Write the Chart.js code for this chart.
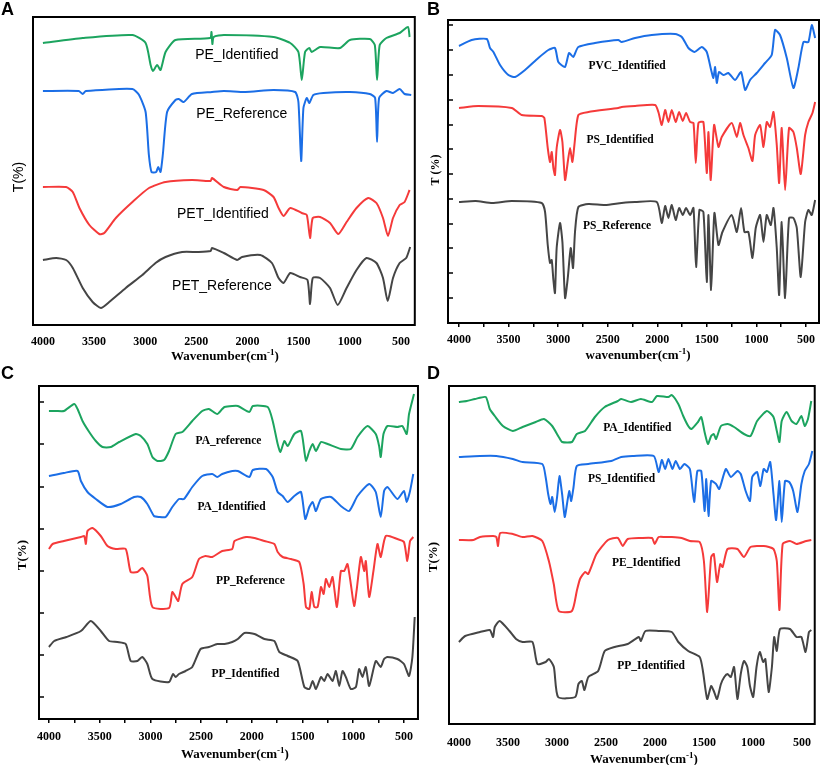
<!DOCTYPE html>
<html>
<head>
<meta charset="utf-8">
<script src="https://cdn.jsdelivr.net/npm/chart.js@4.4.1/dist/chart.umd.min.js"></script>
<style>
body { margin: 0; background: #fff; width: 823px; height: 765px; position: relative; overflow: hidden; }
canvas { position: absolute; }
.letter { position: absolute; font: bold 18px "Liberation Sans", Arial, sans-serif; line-height: 18px; }
.xt { position: absolute; font: bold 13px "Liberation Serif", "Times New Roman", serif; transform: translateX(-50%); white-space: nowrap; line-height: 14px; }
.xt sup { font-size: 9px; }
.yt { position: absolute; transform: translate(-50%, -50%) rotate(-90deg); white-space: nowrap; }
</style>
</head>
<body>
<canvas id="cA" width="420" height="365" style="left:0;top:0"></canvas>
<canvas id="cB" width="403" height="365" style="left:420px;top:0"></canvas>
<canvas id="cC" width="420" height="400" style="left:0;top:365px"></canvas>
<canvas id="cD" width="403" height="400" style="left:420px;top:365px"></canvas>

<div class="letter" style="left:1px;top:0">A</div>
<div class="letter" style="left:427px;top:0">B</div>
<div class="letter" style="left:1px;top:364px">C</div>
<div class="letter" style="left:427px;top:364px">D</div>

<div class="xt" style="left:225px;top:345px">Wavenumber(cm<sup>-1</sup>)</div>
<div class="xt" style="left:638px;top:344px">wavenumber(cm<sup>-1</sup>)</div>
<div class="xt" style="left:235px;top:743px">Wavenumber(cm<sup>-1</sup>)</div>
<div class="xt" style="left:644px;top:748px">Wavenumber(cm<sup>-1</sup>)</div>

<div class="yt" style="left:18px;top:177px;font:14px 'Liberation Sans',Arial,sans-serif">T(%)</div>
<div class="yt" style="left:435px;top:170px;font:bold 12px 'Liberation Serif',serif">T (%)</div>
<div class="yt" style="left:22px;top:555px;font:bold 13px 'Liberation Serif',serif">T(%)</div>
<div class="yt" style="left:433px;top:557px;font:bold 13px 'Liberation Serif',serif">T(%)</div>

<script>
// wavenumber (cm-1) tick labels shared by all panels, minor marks every 250
const xTickLabels = [4000, 3500, 3000, 2500, 2000, 1500, 1000, 500]
const xMinorTicks = [4000, 3750, 3500, 3250, 3000, 2750, 2500, 2250, 2000, 1750, 1500, 1250, 1000, 750, 500]

// ---- panel A : [wavenumber, T offset (a.u.)]
const aPEident = [[4000,282],[3611,287],[3125,290],[2996,282],[2947,260],[2925,254],[2883,260],[2850,255],[2801,273],[2704,285],[2365,287],[2352,293],[2343,281],[2330,288],[2231,290],[1745,288],[1582,282],[1502,273],[1469,245],[1437,273],[1395,277],[1373,273],[1290,278],[1096,277],[999,285],[804,286],[755,280],[733,245],[707,280],[642,287],[512,292],[431,298],[415,288]]
const aPEref = [[4000,234],[3650,234],[3611,231],[3580,234],[3125,236],[3060,230],[2996,213],[2964,170],[2938,153],[2893,153],[2873,158],[2850,153],[2828,170],[2786,213],[2704,225],[2672,226],[2624,223],[2543,231],[2347,233],[2231,234],[2020,233],[1745,235],[1534,233],[1502,223],[1475,164],[1453,217],[1420,227],[1395,222],[1356,230],[1258,232],[999,233],[804,231],[752,227],[733,183],[713,227],[642,234],[577,232],[512,236],[464,231],[399,230]]
const aPETident = [[4000,138],[3773,138],[3708,133],[3643,117],[3546,100],[3449,91],[3400,92],[3287,107],[3125,123],[2963,137],[2801,143],[2542,145],[2360,144],[2347,147],[2231,138],[2101,135],[2069,138],[1842,135],[1745,128],[1696,117],[1647,109],[1582,117],[1469,112],[1420,110],[1388,87],[1362,107],[1290,108],[1193,102],[1112,91],[1031,103],[934,117],[820,127],[739,122],[675,107],[626,89],[577,107],[512,120],[464,123],[415,135]]
const aPETref = [[4000,65],[3870,67],[3773,65],[3708,57],[3611,37],[3514,23],[3433,17],[3352,23],[3190,37],[3028,50],[2899,62],[2801,68],[2639,73],[2477,73],[2360,74],[2347,77],[2231,72],[2101,65],[2053,68],[1875,70],[1761,62],[1696,47],[1647,42],[1582,52],[1486,48],[1413,45],[1388,21],[1362,47],[1290,47],[1193,37],[1118,20],[1031,37],[934,55],[837,67],[739,62],[675,47],[629,24],[577,47],[512,62],[448,67],[409,78]]

// ---- panel B
const bPVC = [[4000,277],[3872,283],[3720,284],[3687,275],[3653,271],[3586,258],[3502,248],[3435,246],[3334,253],[3200,265],[3099,273],[3032,275],[2998,261],[2931,256],[2890,270],[2847,266],[2797,276],[2629,280],[2393,283],[2360,281],[2224,285],[2056,288],[1820,289],[1753,286],[1686,275],[1625,271],[1551,276],[1501,271],[1457,253],[1434,245],[1417,256],[1400,240],[1377,251],[1333,248],[1283,250],[1215,243],[1155,251],[1114,233],[1064,243],[997,250],[913,260],[846,268],[812,293],[762,288],[694,265],[627,235],[577,255],[526,281],[476,281],[442,298],[408,285]]
const bPSident = [[4000,215],[3806,217],[3468,215],[3368,208],[3166,207],[3139,205],[3105,175],[3082,161],[3065,171],[3048,155],[3032,148],[3015,175],[2981,193],[2957,181],[2930,143],[2903,161],[2880,175],[2856,161],[2836,178],[2796,208],[2695,211],[2393,215],[2360,216],[2224,217],[2022,218],[1989,211],[1955,198],[1921,213],[1888,201],[1854,213],[1814,201],[1780,211],[1743,202],[1710,210],[1669,201],[1635,200],[1612,160],[1585,200],[1535,201],[1501,150],[1484,191],[1461,143],[1427,198],[1383,176],[1350,186],[1249,200],[1198,186],[1165,200],[1131,188],[1081,175],[1040,162],[1013,188],[963,198],[929,176],[896,201],[862,196],[828,211],[795,178],[771,140],[745,195],[711,133],[671,195],[627,191],[593,175],[553,149],[509,188],[476,201],[435,210],[408,221]]
const bPSref = [[4000,121],[3832,122],[3664,120],[3468,122],[3166,120],[3132,111],[3105,78],[3082,60],[3065,63],[3048,43],[3032,30],[3015,75],[2981,100],[2957,81],[2930,25],[2903,45],[2873,75],[2850,55],[2830,91],[2796,116],[2695,119],[2527,118],[2360,120],[2224,121],[2005,121],[1955,100],[1921,117],[1888,105],[1854,118],[1814,103],[1780,115],[1743,108],[1710,115],[1669,108],[1635,115],[1609,56],[1575,113],[1535,111],[1501,41],[1484,108],[1457,33],[1424,110],[1383,78],[1343,91],[1249,108],[1198,91],[1155,115],[1121,91],[1081,91],[1040,65],[1007,95],[963,108],[929,81],[896,108],[855,98],[828,115],[795,75],[771,28],[745,101],[711,25],[671,105],[627,105],[593,95],[553,46],[509,101],[476,113],[442,108],[408,123]]
const bYTicks = [25,50,75,99,124,149,174,198,223,248,273,298]

// ---- panel C
const cPAref = [[4000,308],[3931,308],[3853,308],[3751,315],[3718,310],[3669,298],[3603,287],[3538,278],[3472,272],[3390,272],[3308,277],[3144,285],[3095,283],[3030,275],[2980,262],[2931,258],[2865,259],[2816,268],[2751,285],[2685,287],[2587,298],[2489,308],[2423,310],[2341,305],[2292,310],[2269,312],[2193,313],[2138,313],[2024,307],[1990,313],[1843,312],[1794,298],[1745,275],[1718,267],[1679,278],[1646,273],[1581,285],[1515,288],[1482,268],[1466,258],[1433,268],[1400,275],[1368,268],[1318,277],[1253,275],[1122,270],[1024,270],[958,282],[860,293],[778,285],[745,273],[729,262],[702,285],[663,293],[565,292],[516,293],[473,285],[450,305],[401,325]]
const cPAident = [[4000,243],[3853,246],[3718,248],[3685,238],[3620,227],[3538,220],[3423,212],[3292,215],[3161,222],[3095,222],[3030,215],[2964,203],[2915,202],[2849,202],[2784,212],[2718,220],[2669,220],[2587,232],[2489,243],[2390,245],[2341,242],[2292,245],[2193,248],[2138,248],[2024,242],[1990,249],[1859,250],[1794,242],[1745,227],[1696,223],[1646,217],[1581,223],[1515,227],[1473,200],[1433,212],[1400,217],[1368,208],[1318,220],[1220,222],[1122,213],[1040,208],[958,223],[843,235],[778,227],[729,202],[696,228],[663,232],[565,220],[500,228],[473,217],[440,228],[408,245]]
const cPPref = [[4000,170],[3964,175],[3853,178],[3685,182],[3652,183],[3636,175],[3620,188],[3570,191],[3489,183],[3423,173],[3341,170],[3243,170],[3194,147],[3128,147],[3079,151],[3030,143],[2980,112],[2816,111],[2784,127],[2751,122],[2725,118],[2685,135],[2587,142],[2521,160],[2456,163],[2390,162],[2292,168],[2193,170],[2171,178],[2056,182],[1974,181],[1876,178],[1778,175],[1745,167],[1696,162],[1614,160],[1532,157],[1489,135],[1466,112],[1433,110],[1410,127],[1384,112],[1351,112],[1318,132],[1292,125],[1269,140],[1236,132],[1204,142],[1161,112],[1122,148],[1089,148],[1057,155],[1024,135],[991,113],[965,130],[925,162],[892,148],[876,158],[843,122],[801,148],[761,175],[729,162],[679,183],[565,180],[500,177],[467,158],[440,178],[408,182]]
const cPPident = [[4000,72],[3948,78],[3827,82],[3685,88],[3587,98],[3489,88],[3407,78],[3325,77],[3243,75],[3194,58],[3128,58],[3079,62],[3030,55],[2980,40],[2816,37],[2777,45],[2751,42],[2718,45],[2653,48],[2587,52],[2505,70],[2423,72],[2341,75],[2269,75],[2193,77],[2138,80],[2073,86],[1974,85],[1876,80],[1778,78],[1729,67],[1646,63],[1548,58],[1482,32],[1433,30],[1400,38],[1368,30],[1318,42],[1286,38],[1253,45],[1204,38],[1171,48],[1138,33],[1106,48],[1073,42],[1024,30],[974,32],[942,50],[909,42],[876,52],[843,33],[778,58],[729,52],[696,60],[663,62],[565,60],[500,55],[450,43],[417,62],[394,102]]
const cYTicks = [22,64,106,148,190,232,275,317]

// ---- panel D
const dPA = [[4000,322],[3920,323],[3836,325],[3726,327],[3685,315],[3634,308],[3551,298],[3450,293],[3350,297],[3216,302],[3132,305],[3048,298],[2981,287],[2947,282],[2847,282],[2797,290],[2713,293],[2612,307],[2512,317],[2378,323],[2344,325],[2244,322],[2143,325],[2029,322],[1979,328],[1862,327],[1828,329],[1761,320],[1711,308],[1660,298],[1627,295],[1560,302],[1527,307],[1493,292],[1459,280],[1426,288],[1399,290],[1376,285],[1326,298],[1259,300],[1192,297],[1091,290],[1024,288],[957,303],[857,313],[790,307],[756,293],[729,282],[706,303],[656,312],[605,303],[555,300],[505,308],[471,298],[438,305],[404,323]]
const dPS = [[4000,267],[3785,268],[3618,268],[3450,265],[3350,262],[3149,260],[3115,247],[3089,230],[3065,220],[3048,227],[3022,212],[2998,227],[2974,248],[2947,230],[2920,207],[2897,220],[2874,233],[2854,223],[2830,237],[2797,258],[2680,260],[2445,263],[2344,267],[2230,268],[2012,268],[1962,252],[1929,264],[1895,255],[1862,265],[1821,255],[1788,263],[1744,255],[1700,260],[1643,255],[1600,222],[1567,253],[1527,253],[1493,213],[1476,245],[1453,208],[1426,243],[1376,240],[1343,235],[1276,255],[1225,247],[1158,253],[1124,250],[1074,233],[1030,223],[1007,247],[957,252],[924,238],[890,255],[857,252],[823,262],[790,230],[763,204],[729,243],[706,202],[672,243],[629,242],[589,233],[545,212],[505,240],[471,253],[428,260],[394,273]]
const dPE = [[4000,184],[3852,184],[3785,187],[3651,188],[3618,187],[3601,178],[3578,191],[3450,190],[3350,187],[3249,188],[3149,183],[3082,163],[3032,140],[2981,113],[2847,113],[2797,133],[2764,145],[2713,152],[2680,150],[2596,170],[2479,184],[2378,186],[2328,178],[2277,185],[2143,186],[2029,186],[2003,180],[1962,187],[1895,187],[1828,187],[1727,186],[1643,183],[1543,182],[1500,163],[1466,112],[1426,167],[1399,170],[1366,142],[1333,160],[1309,157],[1259,175],[1158,175],[1091,167],[1024,177],[890,178],[790,175],[756,163],[729,114],[696,180],[622,183],[555,180],[455,183],[404,184]]
const dPP = [[4000,82],[3936,88],[3785,92],[3685,94],[3651,87],[3634,97],[3584,103],[3484,93],[3417,85],[3350,82],[3249,82],[3199,60],[3115,62],[3081,65],[3031,57],[2988,27],[2813,27],[2780,40],[2746,43],[2719,34],[2679,47],[2579,53],[2512,73],[2411,77],[2277,80],[2163,87],[2143,83],[2096,93],[1962,93],[1828,92],[1761,82],[1660,73],[1543,67],[1510,53],[1466,25],[1426,38],[1399,33],[1366,25],[1326,40],[1292,47],[1259,50],[1225,47],[1192,57],[1158,25],[1124,50],[1091,63],[1057,57],[1030,38],[997,27],[963,57],[930,72],[896,62],[873,65],[839,32],[806,57],[783,87],[756,73],[723,95],[622,95],[555,87],[505,87],[463,72],[428,92],[404,94]]

const GREEN = '#1ca45f', BLUE = '#1b6ee6', RED = '#f53a3a', DARK = '#454545'
const SERIF = '"Liberation Serif", "Times New Roman", serif'

function spectrum(pts, color) {
  return {
    data: pts.map(p => ({ x: p[0], y: p[1] })).sort((a, b) => b.x - a.x),
    borderColor: color,
    borderWidth: 2,
    pointRadius: 0,
    tension: 0.2,
    fill: false
  }
}

// frame, inward y ticks and curve names
const decor = {
  id: 'decor',
  afterDatasetsDraw(chart, args, opts) {
    const ctx = chart.ctx, a = chart.chartArea, x = chart.scales.x, y = chart.scales.y
    ctx.save()
    ctx.strokeStyle = '#000'
    if (opts.yTicks) {
      ctx.lineWidth = 1.5
      opts.yTicks.forEach(v => {
        const py = y.getPixelForValue(v)
        ctx.beginPath()
        ctx.moveTo(a.left, py)
        ctx.lineTo(a.left + 5, py)
        ctx.stroke()
      })
    }
    ctx.lineWidth = 2
    ctx.strokeRect(a.left, a.top, a.right - a.left, a.bottom - a.top)
    ctx.font = opts.font
    ctx.fillStyle = '#000'
    ctx.textAlign = 'center'
    ctx.textBaseline = 'middle'
    opts.names.forEach((n, i) => {
      const p = opts.at[i]
      ctx.fillText(n, x.getPixelForValue(p[0]), y.getPixelForValue(p[1]))
    })
    ctx.restore()
  }
}

function panel(id, o) {
  const cv = document.getElementById(id)
  const W = cv.width, H = cv.height
  const tickVals = o.marks ? xMinorTicks : xTickLabels
  new Chart(cv, {
    type: 'line',
    data: { datasets: o.sets },
    options: {
      responsive: false,
      animation: false,
      events: [],
      layout: { padding: { left: o.area[0], top: o.area[1], right: W - o.area[2], bottom: 0 } },
      plugins: {
        legend: { display: false },
        tooltip: { enabled: false },
        decor: { names: o.names, at: o.at, font: o.font, yTicks: o.yTicks }
      },
      scales: {
        x: {
          type: 'linear',
          reverse: true,
          min: o.xr[0],
          max: o.xr[1],
          afterBuildTicks: s => { s.ticks = tickVals.map(v => ({ value: v })) },
          afterFit: s => { s.height = H - o.area[3] },
          border: { display: false },
          grid: { display: true, drawOnChartArea: false, drawTicks: o.marks, tickLength: 4, color: '#000', lineWidth: 1.5 },
          ticks: {
            autoSkip: false,
            maxRotation: 0,
            padding: o.pad,
            color: '#000',
            font: { family: SERIF, weight: 'bold', size: 12 },
            callback: v => xTickLabels.includes(v) ? String(v) : ''
          }
        },
        y: { display: false, min: 0, max: o.area[3] - o.area[1] }
      }
    },
    plugins: [decor]
  })
}

panel('cA', {
  area: [33, 17, 417, 325], xr: [364, 4097], marks: false, pad: 10,
  sets: [spectrum(aPEident, GREEN), spectrum(aPEref, BLUE), spectrum(aPETident, RED), spectrum(aPETref, DARK)],
  names: ['PE_Identified', 'PE_Reference', 'PET_Identified', 'PET_Reference'],
  at: [[2104, 270], [2056, 211], [2240, 111], [2250, 39]],
  font: '14px "Liberation Sans", Arial, sans-serif'
})

panel('cB', {
  area: [28, 20, 399, 323], xr: [369, 4111], marks: true, pad: 6, yTicks: bYTicks,
  sets: [spectrum(bPVC, BLUE), spectrum(bPSident, RED), spectrum(bPSref, DARK)],
  names: ['PVC_Identified', 'PS_Identified', 'PS_Reference'],
  at: [[2305, 257], [2375, 183], [2406, 97]],
  font: 'bold 11.5px ' + SERIF
})

panel('cC', {
  area: [39, 21, 419, 354], xr: [362, 4098], marks: true, pad: 7, yTicks: cYTicks,
  sets: [spectrum(cPAref, GREEN), spectrum(cPAident, BLUE), spectrum(cPPref, RED), spectrum(cPPident, DARK)],
  names: ['PA_reference', 'PA_Identified', 'PP_Reference', 'PP_Identified'],
  at: [[2230, 278], [2200, 212], [2014, 138], [2063, 45]],
  font: 'bold 11.5px ' + SERIF
})

panel('cD', {
  area: [29, 21, 400, 359], xr: [369, 4101], marks: false, pad: 12,
  sets: [spectrum(dPA, GREEN), spectrum(dPS, BLUE), spectrum(dPE, RED), spectrum(dPP, DARK)],
  names: ['PA_Identified', 'PS_Identified', 'PE_Identified', 'PP_Identified'],
  at: [[2180, 296], [2341, 245], [2089, 161], [2039, 58]],
  font: 'bold 11.5px ' + SERIF
})
</script>
</body>
</html>
